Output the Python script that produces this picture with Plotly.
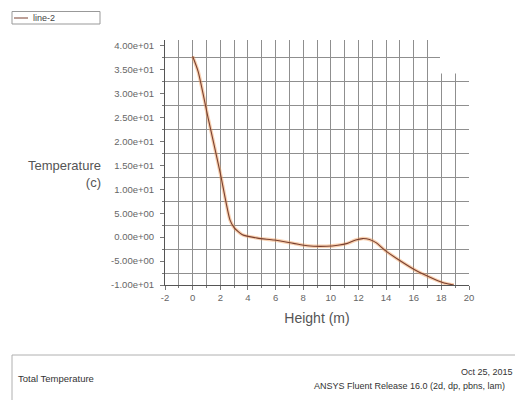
import plotly.graph_objects as go

# ---- data ----
height_m = [0.0, 0.4, 1.15, 2.0, 2.7, 3.0, 3.6, 4.7, 5.9, 7.3, 8.3, 9.7, 10.5,
            11.2, 11.8, 12.3, 12.8, 13.3, 13.9, 15.1, 16.3, 17.5, 18.2, 18.9]
temperature_c = [37.8, 34.6, 24.5, 13.4, 3.6, 2.0, 0.5, -0.2, -0.6, -1.3, -1.8, -1.9, -1.7,
                 -1.3, -0.6, -0.3, -0.5, -1.2, -2.7, -5.1, -7.2, -8.8, -9.6, -10.0]

series_name = "line-2"
y_tick_values = [40, 35, 30, 25, 20, 15, 10, 5, 0, -5, -10]
y_tick_labels = [f"{v:.2e}" for v in y_tick_values]
x_tick_values = [-2, 0, 2, 4, 6, 8, 10, 12, 14, 16, 18, 20]
x_tick_labels = [str(v) for v in x_tick_values]

W, H = 515, 400
L, R, T, B = 165, 46, 40, 115
PW, PH = W - L - R, H - T - B


def px_x(px):
    return (px - L) / PW


def px_y(py):
    return (H - B - py) / PH


grid_col = "#8f8f8f"
tick_font = dict(family="Liberation Sans, Arial", size=9.5, color="#666666")
line_col = "#7a4030"

fig = go.Figure()
fig.add_trace(go.Scatter(x=height_m, y=temperature_c, mode="lines",
                         line=dict(color="rgba(240,150,80,0.45)", width=3.5, shape="spline", smoothing=0.6),
                         showlegend=False, hoverinfo="skip"))
fig.add_trace(go.Scatter(x=height_m, y=temperature_c, mode="lines", name=series_name,
                         line=dict(color=line_col, width=1.1, shape="spline", smoothing=0.6),
                         showlegend=False))

fig.update_layout(
    width=W, height=H,
    margin=dict(l=L, r=R, t=T, b=B),
    paper_bgcolor="white", plot_bgcolor="white",
    font=dict(family="Liberation Sans, Arial", color="#555555"),
    showlegend=False,
    xaxis=dict(range=[-2, 20], tickvals=x_tick_values, ticktext=x_tick_labels,
               showgrid=True, gridcolor=grid_col, gridwidth=1,
               minor=dict(dtick=1, tick0=0, showgrid=True, gridcolor=grid_col, gridwidth=1,
                          ticks="outside", ticklen=2, tickcolor="#777777"),
               ticks="outside", ticklen=4, tickcolor="#777777",
               showline=True, linecolor="#555555", linewidth=1, zeroline=False,
               tickfont=tick_font,
               title=dict(text="Height (m)", font=dict(size=14, color="#555555"), standoff=10)),
    yaxis=dict(range=[-10, 41.2], tickvals=y_tick_values, ticktext=y_tick_labels,
               showgrid=False,
               minor=dict(tick0=2.5, dtick=5, showgrid=True, gridcolor=grid_col, gridwidth=1,
                          ticks="outside", ticklen=2, tickcolor="#777777"),
               ticks="outside", ticklen=4, tickcolor="#777777",
               showline=True, linecolor="#555555", linewidth=1, zeroline=False,
               tickfont=tick_font, ticklabelstandoff=4),
)

# white patch in top-right corner, as in the reference screenshot
fig.add_shape(type="rect", xref="x", yref="y", x0=17.9, x1=20.6, y0=34.2, y1=41.5,
              fillcolor="white", line=dict(width=0), layer="above")

# legend box (drawn manually to match the small Fluent legend)
fig.add_shape(type="rect", xref="paper", yref="paper", x0=px_x(12), x1=px_x(100),
              y0=px_y(24), y1=px_y(11.5), line=dict(color="#999999", width=1),
              fillcolor="white")
fig.add_shape(type="line", xref="paper", yref="paper", x0=px_x(14), x1=px_x(28),
              y0=px_y(18), y1=px_y(18), line=dict(color=line_col, width=1))
fig.add_annotation(xref="paper", yref="paper", x=px_x(31), y=px_y(18),
                   xanchor="left", yanchor="middle", showarrow=False,
                   text=series_name, font=dict(size=9, color="#444444"))

# y axis title (horizontal)
fig.add_annotation(xref="paper", yref="paper", x=px_x(103), y=px_y(174),
                   xanchor="right", yanchor="middle", align="right", showarrow=False,
                   text="Temperature<br>(c)", font=dict(size=13, color="#555555"))

# footer
fig.add_shape(type="line", xref="paper", yref="paper", x0=px_x(12), x1=px_x(520),
              y0=px_y(355), y1=px_y(355), line=dict(color="#b0b0b0", width=1))
fig.add_shape(type="line", xref="paper", yref="paper", x0=px_x(12), x1=px_x(12),
              y0=px_y(355), y1=px_y(405), line=dict(color="#b0b0b0", width=1))
fig.add_annotation(xref="paper", yref="paper", x=px_x(16), y=px_y(378),
                   xanchor="left", yanchor="middle", showarrow=False,
                   text="Total Temperature", font=dict(size=9.5, color="#333333"))
fig.add_annotation(xref="paper", yref="paper", x=px_x(515), y=px_y(371.5),
                   xanchor="right", yanchor="middle", showarrow=False,
                   text="Oct 25, 2015", font=dict(size=9, color="#333333"))
fig.add_annotation(xref="paper", yref="paper", x=px_x(312), y=px_y(386),
                   xanchor="left", yanchor="middle", showarrow=False,
                   text="ANSYS Fluent Release 16.0 (2d, dp, pbns, lam)",
                   font=dict(size=9, color="#333333"))

fig.write_html("out.html")
